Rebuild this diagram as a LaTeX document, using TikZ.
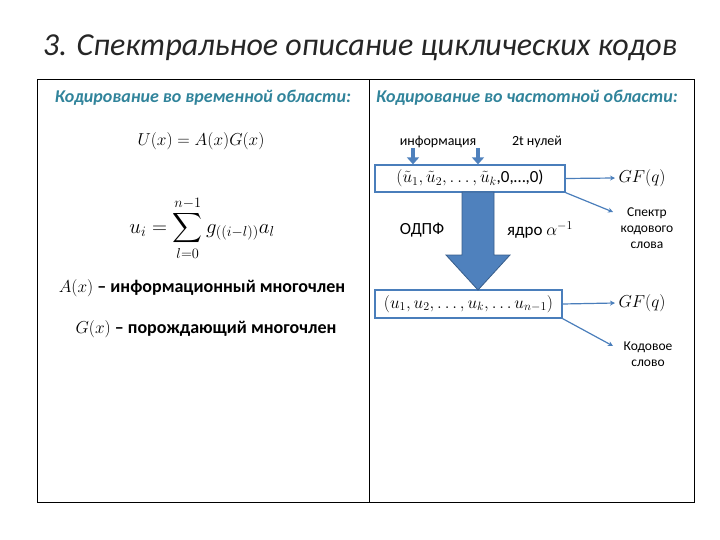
\documentclass[tikz,border=0pt]{standalone}
\usepackage{exscale}
\usepackage{fontspec}
\setmainfont{Carlito}
\usetikzlibrary{arrows.meta}
\definecolor{hdr}{HTML}{31849B}
\definecolor{bluefill}{HTML}{4F81BD}
\definecolor{blueedge}{HTML}{385D8A}
\definecolor{lineblue}{HTML}{4A7EBB}
\tikzset{
  hdrtext/.style={font=\fontsize{18}{21}\selectfont\bfseries\itshape, text=hdr},
  bodytext/.style={font=\fontsize{14}{16}\selectfont},
  boldtext/.style={font=\fontsize{18}{20}\selectfont\bfseries},
  seqbox/.style={draw=lineblue, line width=1.3pt, fill=white, minimum height=27pt, inner sep=2pt, font=\fontsize{17}{19}\selectfont},
  conn/.style={draw=lineblue, line width=1.2pt, -{Stealth[length=5pt,width=5pt]}},
  smallarrow/.style={draw=bluefill, line width=4.5pt, -{Triangle[length=7pt,width=12pt]}},
  smalllabel/.style={font=\fontsize{13.5}{16}\selectfont, align=center},
}
\begin{document}
\begin{tikzpicture}[x=1pt,y=-1pt]
\useasboundingbox (0,0) rectangle (720,540);
% title
\node[font=\fontsize{32}{36}\selectfont\itshape, text=black!85] (title) at (360,48) {3. Спектральное описание циклических кодов};
% frame
\draw[line width=1pt] (37,80) rectangle (694,502);
\draw[line width=1pt] (369,80) -- (369,502);
% headers
\node[hdrtext] (h1) at (203,98) {Кодирование во временной области:};
\node[hdrtext] (h2) at (527,98) {Кодирование во частотной области:};
% left side
\node[font=\fontsize{18}{20}\selectfont] (ux) at (201,141) {$U(x)=A(x)G(x)$};
\node[font=\fontsize{21}{24}\selectfont] (ui) at (202,228) {$\displaystyle u_i=\sum_{l=0}^{n-1} g_{((i-l))}a_l$};
\node[boldtext] (ax) at (202,288) {$A(x)$ – информационный многочлен};
\node[boldtext] (gx) at (206,329) {$G(x)$ – порождающий многочлен};
% right side
\node[bodytext] (info) at (438,142) {информация};
\node[bodytext] (zeros) at (537,142) {2t нулей};
\node[seqbox, minimum width=190pt] (b1) at (470,178.5) {$(\tilde u_1,\tilde u_2,\dots,\tilde u_k$,0,…,0)};
\node[seqbox, minimum width=187pt, minimum height=28pt] (b2) at (468.5,304) {$(u_1,u_2,\dots,u_k,\dots u_{n-1})$};
\coordinate (a1s) at (413,148);
\coordinate (a2s) at (478,148);
\draw[smallarrow] (a1s) -- (a1s |- b1.north);
\draw[smallarrow] (a2s) -- (a2s |- b1.north);
% big arrow
\fill[bluefill, draw=blueedge, line width=0.8pt] (462,192) -- (494,192) -- (494,255) -- (510,255) -- (478,290) -- (446,255) -- (462,255) -- cycle;
\node[font=\fontsize{17}{20}\selectfont] (odpf) at (422,230) {ОДПФ};
\node[font=\fontsize{17}{20}\selectfont] (kern) at (540,230) {ядро $\alpha^{-1}$};
% right labels
\node[font=\fontsize{16}{18}\selectfont, anchor=west] (gf1) at (615,178) {$GF(q)$};
\node[smalllabel] (spec) at (647,228) {Спектр\\кодового\\слова};
\node[font=\fontsize{16}{18}\selectfont, anchor=west] (gf2) at (615,303) {$GF(q)$};
\node[smalllabel] (cw) at (648,354) {Кодовое\\слово};
\coordinate (s1) at (613,212);
\coordinate (s2) at (613,346);
\draw[conn] (b1.east) -- (gf1.west);
\draw[conn] (b1.south east) -- (s1);
\draw[conn] (b2.east) -- (gf2.west);
\draw[conn] (b2.south east) -- (s2);
\end{tikzpicture}
\end{document}
